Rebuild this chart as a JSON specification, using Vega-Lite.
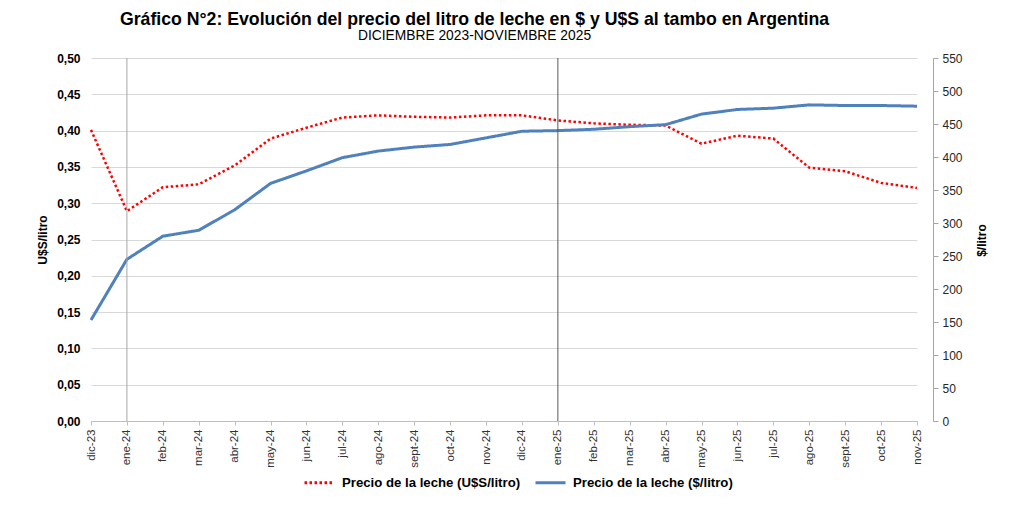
{
  "$schema": "https://vega.github.io/schema/vega-lite/v6.json",
  "width": 843,
  "height": 363,
  "autosize": {"type": "none"},
  "padding": {"left": 90, "top": 58, "right": 91, "bottom": 93},
  "background": "white",
  "config": {
    "font": "Liberation Sans",
    "view": {"stroke": null}
  },
  "title": {
    "text": "Gráfico N°2: Evolución del precio del litro de leche en $ y U$S al tambo en Argentina",
    "subtitle": "DICIEMBRE 2023-NOVIEMBRE 2025",
    "fontSize": 17.7,
    "fontWeight": "bold",
    "color": "black",
    "subtitleFontSize": 13.8,
    "subtitleColor": "black",
    "subtitlePadding": 1,
    "anchor": "middle",
    "dx": -37,
    "offset": 9
  },
  "datasets": {
    "precios": [
      {"mes": "dic-23", "serie": "Precio de la leche (U$S/litro)", "valor": 0.401},
      {"mes": "ene-24", "serie": "Precio de la leche (U$S/litro)", "valor": 0.289},
      {"mes": "feb-24", "serie": "Precio de la leche (U$S/litro)", "valor": 0.322},
      {"mes": "mar-24", "serie": "Precio de la leche (U$S/litro)", "valor": 0.326},
      {"mes": "abr-24", "serie": "Precio de la leche (U$S/litro)", "valor": 0.352},
      {"mes": "may-24", "serie": "Precio de la leche (U$S/litro)", "valor": 0.389},
      {"mes": "jun-24", "serie": "Precio de la leche (U$S/litro)", "valor": 0.404},
      {"mes": "jul-24", "serie": "Precio de la leche (U$S/litro)", "valor": 0.418},
      {"mes": "ago-24", "serie": "Precio de la leche (U$S/litro)", "valor": 0.421},
      {"mes": "sept-24", "serie": "Precio de la leche (U$S/litro)", "valor": 0.419},
      {"mes": "oct-24", "serie": "Precio de la leche (U$S/litro)", "valor": 0.418},
      {"mes": "nov-24", "serie": "Precio de la leche (U$S/litro)", "valor": 0.421},
      {"mes": "dic-24", "serie": "Precio de la leche (U$S/litro)", "valor": 0.421},
      {"mes": "ene-25", "serie": "Precio de la leche (U$S/litro)", "valor": 0.414},
      {"mes": "feb-25", "serie": "Precio de la leche (U$S/litro)", "valor": 0.410},
      {"mes": "mar-25", "serie": "Precio de la leche (U$S/litro)", "valor": 0.408},
      {"mes": "abr-25", "serie": "Precio de la leche (U$S/litro)", "valor": 0.407},
      {"mes": "may-25", "serie": "Precio de la leche (U$S/litro)", "valor": 0.382},
      {"mes": "jun-25", "serie": "Precio de la leche (U$S/litro)", "valor": 0.393},
      {"mes": "jul-25", "serie": "Precio de la leche (U$S/litro)", "valor": 0.389},
      {"mes": "ago-25", "serie": "Precio de la leche (U$S/litro)", "valor": 0.349},
      {"mes": "sept-25", "serie": "Precio de la leche (U$S/litro)", "valor": 0.344},
      {"mes": "oct-25", "serie": "Precio de la leche (U$S/litro)", "valor": 0.328},
      {"mes": "nov-25", "serie": "Precio de la leche (U$S/litro)", "valor": 0.321},
      {"mes": "dic-23", "serie": "Precio de la leche ($/litro)", "valor": 153},
      {"mes": "ene-24", "serie": "Precio de la leche ($/litro)", "valor": 245},
      {"mes": "feb-24", "serie": "Precio de la leche ($/litro)", "valor": 280},
      {"mes": "mar-24", "serie": "Precio de la leche ($/litro)", "valor": 289},
      {"mes": "abr-24", "serie": "Precio de la leche ($/litro)", "valor": 320},
      {"mes": "may-24", "serie": "Precio de la leche ($/litro)", "valor": 360},
      {"mes": "jun-24", "serie": "Precio de la leche ($/litro)", "valor": 379},
      {"mes": "jul-24", "serie": "Precio de la leche ($/litro)", "valor": 399},
      {"mes": "ago-24", "serie": "Precio de la leche ($/litro)", "valor": 409},
      {"mes": "sept-24", "serie": "Precio de la leche ($/litro)", "valor": 415},
      {"mes": "oct-24", "serie": "Precio de la leche ($/litro)", "valor": 419},
      {"mes": "nov-24", "serie": "Precio de la leche ($/litro)", "valor": 429},
      {"mes": "dic-24", "serie": "Precio de la leche ($/litro)", "valor": 439},
      {"mes": "ene-25", "serie": "Precio de la leche ($/litro)", "valor": 440},
      {"mes": "feb-25", "serie": "Precio de la leche ($/litro)", "valor": 442},
      {"mes": "mar-25", "serie": "Precio de la leche ($/litro)", "valor": 446},
      {"mes": "abr-25", "serie": "Precio de la leche ($/litro)", "valor": 449},
      {"mes": "may-25", "serie": "Precio de la leche ($/litro)", "valor": 465},
      {"mes": "jun-25", "serie": "Precio de la leche ($/litro)", "valor": 472},
      {"mes": "jul-25", "serie": "Precio de la leche ($/litro)", "valor": 474},
      {"mes": "ago-25", "serie": "Precio de la leche ($/litro)", "valor": 479},
      {"mes": "sept-25", "serie": "Precio de la leche ($/litro)", "valor": 478},
      {"mes": "oct-25", "serie": "Precio de la leche ($/litro)", "valor": 478},
      {"mes": "nov-25", "serie": "Precio de la leche ($/litro)", "valor": 477}
    ],
    "separadores": [
      {"mes": "ene-24", "tipo": "claro"},
      {"mes": "ene-25", "tipo": "oscuro"}
    ]
  },
  "encoding": {
    "x": {
      "field": "mes",
      "type": "ordinal",
      "scale": {
        "type": "point",
        "padding": 0,
        "domain": ["dic-23","ene-24","feb-24","mar-24","abr-24","may-24","jun-24","jul-24","ago-24","sept-24","oct-24","nov-24","dic-24","ene-25","feb-25","mar-25","abr-25","may-25","jun-25","jul-25","ago-25","sept-25","oct-25","nov-25"],
        "range": [1, 827]
      },
      "axis": {
        "title": null,
        "labelAngle": 270,
        "labelAlign": "right",
        "labelBaseline": "middle",
        "labelFontSize": 11.5,
        "labelColor": "#333333",
        "labelPadding": 4,
        "domainColor": "#bfbfbf",
        "tickColor": "#bfbfbf",
        "tickSize": 4,
        "grid": false
      }
    }
  },
  "layer": [
    {
      "data": {"name": "precios"},
      "transform": [{"filter": "datum.serie == 'Precio de la leche (U$S/litro)'"}],
      "mark": {"type": "line", "strokeWidth": 2.5},
      "encoding": {
        "y": {
          "field": "valor",
          "type": "quantitative",
          "scale": {"domain": [0, 0.5], "nice": false, "zero": true},
          "axis": {
            "title": "U$S/litro",
            "titleFontSize": 12,
            "titleFontWeight": "bold",
            "titleColor": "black",
            "titlePadding": 7,
            "values": [0, 0.05, 0.1, 0.15, 0.2, 0.25, 0.3, 0.35, 0.4, 0.45, 0.5],
            "labelExpr": "replace(format(datum.value, '.2f'), '.', ',')",
            "labelFontSize": 12,
            "labelFontWeight": "bold",
            "labelColor": "black",
            "labelPadding": 10,
            "domain": false,
            "ticks": false,
            "grid": true,
            "gridColor": "#d9d9d9",
            "gridWidth": 1
          }
        },
        "color": {
          "field": "serie",
          "type": "nominal",
          "scale": {"domain": ["Precio de la leche (U$S/litro)", "Precio de la leche ($/litro)"], "range": ["#ff0000", "#4f81bd"]},
          "legend": {
            "title": null,
            "orient": "none",
            "direction": "horizontal",
            "legendX": 213,
            "legendY": 408,
            "symbolType": "stroke",
            "symbolSize": 900,
            "symbolStrokeWidth": 3,
            "labelFontSize": 13.2,
            "labelFontWeight": "bold",
            "labelColor": "black",
            "labelLimit": 0,
            "columnPadding": 8,
            "labelOffset": 6
          }
        },
        "strokeDash": {
          "field": "serie",
          "type": "nominal",
          "scale": {"domain": ["Precio de la leche (U$S/litro)", "Precio de la leche ($/litro)"], "range": [[2.5, 2.5], [1, 0]]},
          "legend": null
        }
      }
    },
    {
      "data": {"name": "precios"},
      "transform": [{"filter": "datum.serie == 'Precio de la leche ($/litro)'"}],
      "mark": {"type": "line", "strokeWidth": 3},
      "encoding": {
        "y": {
          "field": "valor",
          "type": "quantitative",
          "scale": {"domain": [0, 550], "nice": false, "zero": true},
          "axis": {
            "orient": "right",
            "title": "$/litro",
            "titleFontSize": 12,
            "titleFontWeight": "bold",
            "titleColor": "black",
            "titleAngle": 270,
            "titleX": 48,
            "titleY": 182,
            "titleAlign": "center",
            "titleBaseline": "middle",
            "values": [0, 50, 100, 150, 200, 250, 300, 350, 400, 450, 500, 550],
            "labelFontSize": 12,
            "labelColor": "#262626",
            "labelPadding": 4,
            "domainColor": "#a6a6a6",
            "tickColor": "#a6a6a6",
            "tickSize": 5,
            "grid": false
          }
        },
        "color": {"field": "serie", "type": "nominal"},
        "strokeDash": {"field": "serie", "type": "nominal"}
      }
    },
    {
      "data": {"name": "separadores"},
      "transform": [{"filter": "datum.tipo == 'claro'"}],
      "mark": {"type": "rule", "color": "#a6a6a6", "strokeWidth": 1},
      "encoding": {}
    },
    {
      "data": {"name": "separadores"},
      "transform": [{"filter": "datum.tipo == 'oscuro'"}],
      "mark": {"type": "rule", "color": "#595959", "strokeWidth": 1},
      "encoding": {}
    }
  ],
  "resolve": {"scale": {"y": "independent"}}
}
